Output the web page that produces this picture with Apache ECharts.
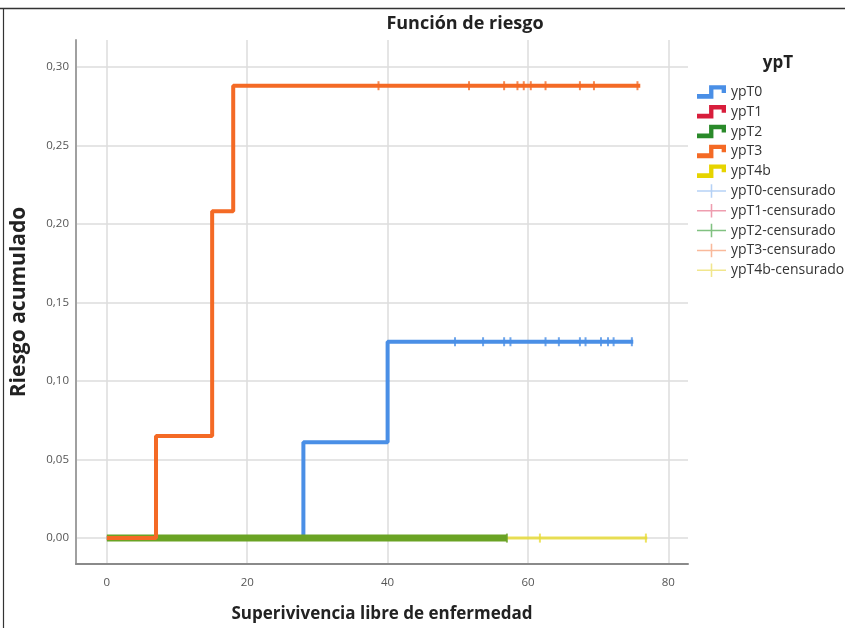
<!DOCTYPE html>
<html>
<head>
<meta charset="utf-8">
<script src="https://cdn.jsdelivr.net/npm/echarts@6/dist/echarts.min.js"></script>
<style>html,body{margin:0;padding:0;background:#fff}#c{width:845px;height:628px}</style>
</head>
<body>
<div id="c"></div>
<script>
// Step data (time, cumulative risk)
const tiempoT0 = [0, 28, 40, 75];
const riesgoT0 = [0, 0.061, 0.125, 0.125];
const tiempoT1 = [0, 45];
const riesgoT1 = [0, 0];
const tiempoT2 = [0, 57];
const riesgoT2 = [0, 0];
const tiempoT3 = [0, 7, 15, 18, 76];
const riesgoT3 = [0, 0.065, 0.208, 0.288, 0.288];
const tiempoT4b = [0, 77];
const riesgoT4b = [0, 0];
// Censored times
const censT0 = [49.6, 53.6, 56.6, 57.5, 62.5, 64.4, 67.4, 68.2, 70.4, 71.4, 72.2, 74.8];
const censT1 = [];
const censT2 = [57];
const censT3 = [38.7, 51.6, 56.6, 58.5, 59.4, 60.4, 62.5, 67.4, 69.4, 75.6];
const censT4b = [61.7, 76.8];
const xTicks = [0, 20, 40, 60, 80];
const yTicks = [0, 0.05, 0.10, 0.15, 0.20, 0.25, 0.30];

const FONT = '"Open Sans", "Noto Sans", sans-serif';
const colors = {T0:'#4a8fe6', T1:'#d81e3c', T2:'#6aa324', T3:'#f46a25', T4b:'#e8dc3a'};
const legendLineColors = {T0:'#4a8fe6', T1:'#d81e3c', T2:'#2a8a2a', T3:'#f46a25', T4b:'#e6d400'};
const legendCensColors = {T0:'#a2c6f2', T1:'#ea849b', T2:'#62b262', T3:'#f7a882', T4b:'#eee070'};

function pairs(t, r) { return t.map((v, i) => [v, r[i]]); }
function stepValue(t, r, x) {
  let v = r[0];
  for (let i = 0; i < t.length; i++) { if (t[i] <= x) v = r[i]; }
  return v;
}
function cens(times, t, r) { return times.map(x => [x, stepValue(t, r, x)]); }

const stepIcon = 'path://M0,9 L12.5,9 L12.5,0 L30,0 L30,8 L25.5,8 L25.5,4.5 L17,4.5 L17,14 L0,14 Z';
const crossIcon = 'path://M0,6.2 L30,6.2 L30,7.8 L0,7.8 Z M14.2,0 L15.8,0 L15.8,14 L14.2,14 Z';
const tickSym = 'path://M0,0 L2,0 L2,10 L0,10 Z';

function lineSeries(name, key, t, r, w, z, opacity) {
  return {
    name: name, type: 'line', step: 'end', data: pairs(t, r),
    showSymbol: false, symbol: 'none', z: z, animation: false,
    lineStyle: {color: colors[key], width: w, opacity: opacity == null ? 1 : opacity},
    itemStyle: {color: colors[key]}
  };
}
function censSeries(name, key, times, t, r, z) {
  return {
    name: name, type: 'scatter', data: cens(times, t, r), symbol: tickSym,
    symbolSize: [2, 9], z: z, animation: false,
    itemStyle: {color: colors[key]}
  };
}

const series = [
  lineSeries('ypT4b', 'T4b', tiempoT4b, riesgoT4b, 3, 1, 0.85),
  lineSeries('ypT1', 'T1', tiempoT1, riesgoT1, 5, 2),
  lineSeries('ypT0', 'T0', tiempoT0, riesgoT0, 4, 3),
  lineSeries('ypT2', 'T2', tiempoT2, riesgoT2, 7, 4),
  lineSeries('ypT3', 'T3', tiempoT3, riesgoT3, 4, 5),
  censSeries('ypT0-censurado', 'T0', censT0, tiempoT0, riesgoT0, 7),
  censSeries('ypT1-censurado', 'T1', censT1, tiempoT1, riesgoT1, 7),
  censSeries('ypT2-censurado', 'T2', censT2, tiempoT2, riesgoT2, 7),
  censSeries('ypT3-censurado', 'T3', censT3, tiempoT3, riesgoT3, 7),
  censSeries('ypT4b-censurado', 'T4b', censT4b, tiempoT4b, riesgoT4b, 7)
];

const keys = ['T0', 'T1', 'T2', 'T3', 'T4b'];
const legendData = keys.map(k => ({name: 'yp' + k, icon: stepIcon, itemStyle: {color: legendLineColors[k]}}))
  .concat(keys.map(k => ({name: 'yp' + k + '-censurado', icon: crossIcon, itemStyle: {color: legendCensColors[k]}})));

const gridCol = '#dcdcdc';
const chart = echarts.init(document.getElementById('c'));
chart.setOption({
  animation: false,
  backgroundColor: '#fff',
  title: [
    {text: 'Función de riesgo', left: 460, top: 10, textAlign: 'center',
     textStyle: {fontFamily: FONT, fontSize: 18, fontWeight: 'bold', color: '#222'}},
    {text: 'ypT', left: 773, top: 50, textAlign: 'center',
     textStyle: {fontFamily: FONT, fontSize: 17, fontWeight: 'bold', color: '#222'}}
  ],
  grid: {left: 76, right: 157, top: 40, bottom: 62, containLabel: false},
  legend: {
    orient: 'vertical', left: 692, top: 80, itemWidth: 29, itemHeight: 14, itemGap: 5.8,
    itemTextGap: 1, selectedMode: false, data: legendData,
    textStyle: {fontFamily: FONT, fontSize: 14, color: '#333'}
  },
  xAxis: {
    type: 'value', min: -4.4, max: 82.8,
    name: 'Superivivencia libre de enfermedad', nameLocation: 'middle', nameGap: 42,
    nameTextStyle: {fontFamily: FONT, fontSize: 17, fontWeight: 'bold', color: '#222'},
    axisLine: {show: true, onZero: false, lineStyle: {color: '#8a8a8a', width: 2}},
    axisTick: {show: false},
    axisLabel: {fontFamily: FONT, fontSize: 11.5, color: '#555', margin: 13,
      formatter: v => xTicks.some(t => Math.abs(t - v) < 1e-6) ? String(v) : ''},
    splitLine: {show: true, lineStyle: {color: ['rgba(0,0,0,0)', gridCol, gridCol, gridCol, gridCol, gridCol, 'rgba(0,0,0,0)'], width: 1.5}}
  },
  yAxis: {
    type: 'value', min: -0.0165, max: 0.3171,
    name: 'Riesgo acumulado', nameLocation: 'middle', nameGap: 46, nameRotate: 90,
    nameTextStyle: {fontFamily: FONT, fontSize: 21, fontWeight: 'bold', color: '#222'},
    axisLine: {show: true, onZero: false, lineStyle: {color: '#a0a0a0', width: 2}},
    axisTick: {show: false},
    axisLabel: {fontFamily: FONT, fontSize: 11.5, color: '#555', margin: 7,
      formatter: v => yTicks.some(t => Math.abs(t - v) < 1e-6) ? v.toFixed(2).replace('.', ',') : ''},
    splitLine: {show: true, lineStyle: {color: ['rgba(0,0,0,0)', gridCol, gridCol, gridCol, gridCol, gridCol, gridCol, gridCol, 'rgba(0,0,0,0)'], width: 1.5}}
  },
  graphic: [
    {type: 'line', shape: {x1: 0, y1: 8.5, x2: 845, y2: 8.5}, style: {stroke: '#333', lineWidth: 1.5}, silent: true},
    {type: 'line', shape: {x1: 3.5, y1: 8, x2: 3.5, y2: 628}, style: {stroke: '#333', lineWidth: 1.2}, silent: true}
  ],
  series: series
});
</script>
</body>
</html>
